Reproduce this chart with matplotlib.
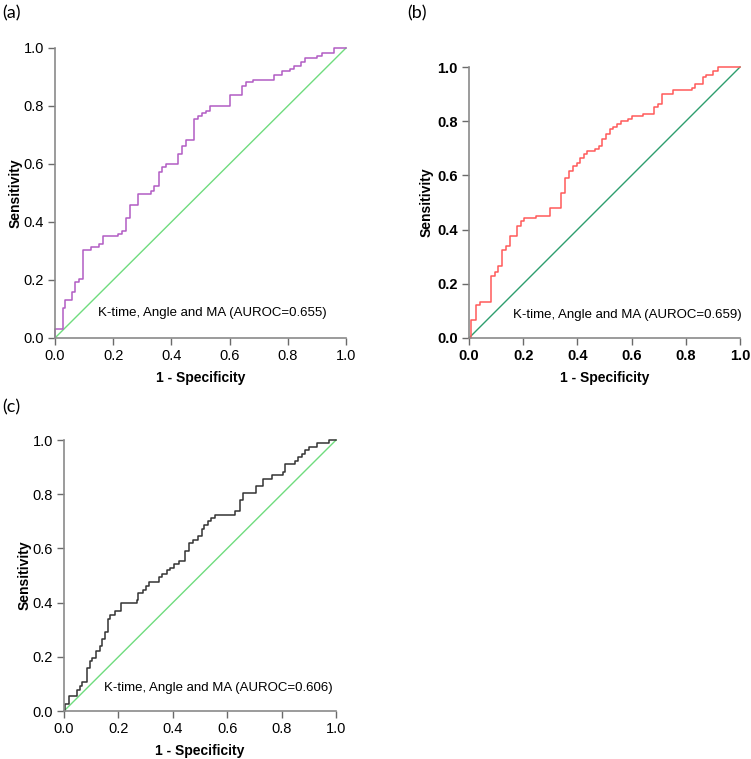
import matplotlib
matplotlib.use("Agg")
import matplotlib.pyplot as plt

plt.rcParams['font.family'] = ['Liberation Sans', 'DejaVu Sans']

# ROC step vertices: x where the curve rises, y the level after the rise
fpr_a = [0.0, 0.0, 0.029, 0.035, 0.057, 0.069, 0.083, 0.095, 0.123, 0.153, 0.164,
         0.218, 0.229, 0.244, 0.258, 0.287, 0.329, 0.341, 0.356, 0.369, 0.382,
         0.424, 0.438, 0.451, 0.478, 0.493, 0.505, 0.520, 0.533, 0.602, 0.642,
         0.656, 0.682, 0.751, 0.780, 0.806, 0.820, 0.846, 0.860, 0.900, 0.917,
         0.958, 1.0]
tpr_a = [0.0, 0.031, 0.103, 0.132, 0.159, 0.193, 0.203, 0.305, 0.314, 0.323, 0.351,
         0.357, 0.369, 0.414, 0.460, 0.497, 0.506, 0.525, 0.571, 0.588, 0.600,
         0.636, 0.663, 0.682, 0.755, 0.764, 0.776, 0.784, 0.800, 0.837, 0.870,
         0.883, 0.891, 0.908, 0.920, 0.929, 0.939, 0.951, 0.966, 0.974, 0.983,
         1.0, 1.0]

fpr_b = [0.0, 0.006, 0.027, 0.039, 0.080, 0.095, 0.107, 0.122, 0.135, 0.150, 0.177,
         0.191, 0.203, 0.246, 0.300, 0.341, 0.356, 0.369, 0.384, 0.397, 0.411,
         0.424, 0.437, 0.464, 0.479, 0.491, 0.505, 0.520, 0.532, 0.547, 0.560,
         0.587, 0.602, 0.643, 0.683, 0.698, 0.713, 0.754, 0.821, 0.834, 0.862,
         0.874, 0.901, 0.917, 1.0]
tpr_b = [0.0, 0.065, 0.123, 0.131, 0.229, 0.242, 0.267, 0.323, 0.341, 0.378, 0.413,
         0.433, 0.444, 0.452, 0.479, 0.534, 0.589, 0.616, 0.636, 0.644, 0.665,
         0.679, 0.690, 0.699, 0.709, 0.734, 0.752, 0.771, 0.779, 0.789, 0.800,
         0.810, 0.820, 0.826, 0.853, 0.865, 0.899, 0.917, 0.924, 0.936, 0.963,
         0.972, 0.984, 1.0, 1.0]

fpr_c = [0.0, 0.004, 0.018, 0.048, 0.058, 0.066, 0.085, 0.095, 0.103, 0.119, 0.131,
         0.141, 0.150, 0.160, 0.168, 0.189, 0.209, 0.267, 0.273, 0.289, 0.300,
         0.312, 0.350, 0.361, 0.377, 0.389, 0.404, 0.424, 0.445, 0.459, 0.473,
         0.491, 0.506, 0.516, 0.528, 0.541, 0.555, 0.629, 0.647, 0.657, 0.706,
         0.733, 0.764, 0.805, 0.813, 0.850, 0.862, 0.875, 0.887, 0.899, 0.930,
         0.973, 1.0]
tpr_c = [0.0, 0.027, 0.054, 0.079, 0.091, 0.107, 0.159, 0.183, 0.197, 0.220, 0.239,
         0.264, 0.292, 0.341, 0.353, 0.368, 0.397, 0.411, 0.436, 0.448, 0.462,
         0.477, 0.493, 0.504, 0.520, 0.528, 0.542, 0.553, 0.591, 0.621, 0.633,
         0.647, 0.670, 0.686, 0.700, 0.713, 0.725, 0.739, 0.778, 0.803, 0.830,
         0.856, 0.871, 0.883, 0.910, 0.924, 0.938, 0.948, 0.963, 0.975, 0.990,
         1.0, 1.0]

labels = ["K-time, Angle and MA (AUROC=0.655)",
          "K-time, Angle and MA (AUROC=0.659)",
          "K-time, Angle and MA (AUROC=0.606)"]
ticks = [0.0, 0.2, 0.4, 0.6, 0.8, 1.0]

fig = plt.figure(figsize=(7.51, 7.59), dpi=100)

panels = [
    # rect, x, y, curve colour, diagonal colour, bold ticks, text x, label, ylabel pad
    ([0.0732, 0.5547, 0.3875, 0.3821], fpr_a, tpr_a, "#b25cc4", "#6fdc7e", False, 0.54, labels[0], 0.5),
    ([0.6245, 0.5547, 0.3609, 0.3570], fpr_b, tpr_b, "#ff5a5a", "#2e9e6e", True, 0.583, labels[1], 2.5),
    ([0.0852, 0.0632, 0.3622, 0.3570], fpr_c, tpr_c, "#333333", "#6fdc7e", False, 0.566, labels[2], 0.5),
]

for rect, fx, ty, col, dcol, bold, tx, lab, ypad in panels:
    ax = fig.add_axes(rect)
    ax.plot([0, 1], [0, 1], color=dcol, lw=1.0, clip_on=False)
    ax.step(fx, ty, where='post', color=col, lw=1.1, clip_on=False)
    ax.set_xlim(0, 1)
    ax.set_ylim(0, 1)
    ax.set_xticks(ticks)
    ax.set_yticks(ticks)
    ax.set_xticklabels([f"{t:.1f}" for t in ticks])
    ax.set_yticklabels([f"{t:.1f}" for t in ticks])
    for s in ["top", "right"]:
        ax.spines[s].set_visible(False)
    for s in ["left", "bottom"]:
        ax.spines[s].set_color("#8a8a8a")
        ax.spines[s].set_linewidth(1.2)
    ax.tick_params(direction='out', length=5, width=1.0, color="#6a6a6a",
                   labelsize=10.5, pad=3)
    if bold:
        for t in ax.get_xticklabels() + ax.get_yticklabels():
            t.set_fontweight('bold')
    ax.set_xlabel("1 - Specificity", fontsize=10, fontweight='bold', labelpad=6)
    ax.set_ylabel("Sensitivity", fontsize=10, fontweight='bold', labelpad=ypad)
    ax.text(tx, 0.086, lab, fontsize=9.5, ha='center', va='center')

fig.text(0.003, 0.983, "(a)", fontsize=13, family=['Lato', 'DejaVu Sans'], va='center')
fig.text(0.542, 0.983, "(b)", fontsize=13, family=['Lato', 'DejaVu Sans'], va='center')
fig.text(0.003, 0.463, "(c)", fontsize=13, family=['Lato', 'DejaVu Sans'], va='center')

fig.savefig("out.png", dpi=100)
